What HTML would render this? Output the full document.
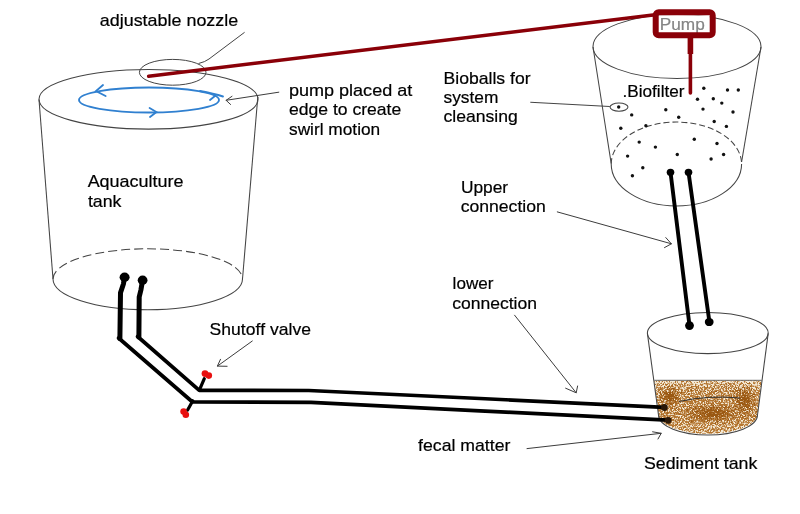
<!DOCTYPE html>
<html>
<head>
<meta charset="utf-8">
<style>
html,body{margin:0;padding:0;background:#fff;}
body{width:800px;height:514px;overflow:hidden;}
svg{display:block;filter:blur(0.3px);}
text{font-family:"Liberation Sans",sans-serif;fill:#000;stroke:#000;stroke-width:0.2px;font-kerning:none;}
</style>
</head>
<body>
<svg width="800" height="514" viewBox="0 0 800 514">
<defs>
  <filter id="speck" x="0" y="0" width="100%" height="100%" color-interpolation-filters="sRGB">
    <feTurbulence type="fractalNoise" baseFrequency="0.65" numOctaves="2" seed="7" result="n"/>
    <feColorMatrix in="n" type="matrix" values="0 0 0 0 0  0 0 0 0 0  0 0 0 0 0  1 0 0 0 0" result="na"/>
    <feComposite in="na" in2="SourceGraphic" operator="arithmetic" k1="0" k2="6" k3="1.0" k4="-3.2" result="m"/>
    <feFlood flood-color="#b57630"/>
    <feComposite in2="m" operator="in"/>
  </filter>
  <filter id="speckd" x="0" y="0" width="100%" height="100%" color-interpolation-filters="sRGB">
    <feTurbulence type="fractalNoise" baseFrequency="0.7" numOctaves="2" seed="21" result="n"/>
    <feColorMatrix in="n" type="matrix" values="0 0 0 0 0  0 0 0 0 0  0 0 0 0 0  1 0 0 0 0" result="na"/>
    <feComposite in="na" in2="SourceGraphic" operator="arithmetic" k1="0" k2="5" k3="1.8" k4="-2.85" result="m"/>
    <feFlood flood-color="#9a5812"/>
    <feComposite in2="m" operator="in"/>
  </filter>
  <linearGradient id="dens" x1="0" y1="0" x2="0" y2="1">
    <stop offset="0" stop-color="#000" stop-opacity="0.35"/>
    <stop offset="0.2" stop-color="#000" stop-opacity="0.9"/>
    <stop offset="0.7" stop-color="#000" stop-opacity="1"/>
    <stop offset="1" stop-color="#000" stop-opacity="0.75"/>
  </linearGradient>
  <radialGradient id="blob">
    <stop offset="0" stop-color="#000" stop-opacity="1"/>
    <stop offset="1" stop-color="#000" stop-opacity="0"/>
  </radialGradient>
  <clipPath id="sedclip">
    <path d="M654.2,380.5 L761.6,380.5 L757.5,414 A49.5,19.8 0 0 1 658.5,414 Z"/>
  </clipPath>
</defs>
<rect width="800" height="514" fill="#fff"/>

<!-- ===== Aquaculture tank ===== -->
<g fill="none" stroke="#444" stroke-width="1.05">
  <ellipse cx="148.5" cy="99.3" rx="109.5" ry="29.8"/>
  <line x1="39" y1="99.5" x2="53" y2="279"/>
  <line x1="257.8" y1="97" x2="242.5" y2="279"/>
  <path d="M53,279 A94.75,30.8 0 0 0 242.5,279"/>
  <path d="M53,279 A94.75,30.2 0 0 1 242.5,279" stroke-dasharray="9 4"/>
</g>

<!-- blue swirl -->
<g fill="none" stroke="#3080d0" stroke-width="1.85" stroke-linecap="round">
  <ellipse cx="149" cy="100" rx="70" ry="12.5"/>
  <path d="M200,91 Q214,93.5 223,96.5"/>
  <path d="M103,85 L96,91 L105.6,96"/>
  <path d="M149.6,108 L156.4,112 L150,117"/>
  <path d="M210,100 L215.6,95.6"/>
</g>

<!-- nozzle ellipse + leader -->
<g fill="none" stroke="#444" stroke-width="1">
  <ellipse cx="172.7" cy="72.3" rx="33.3" ry="12.9"/>
  <path d="M244.6,32.3 L209,59 Q205,62 198.5,63.5"/>
</g>

<!-- ===== Biofilter ===== -->
<g fill="none" stroke="#444" stroke-width="1.05">
  <ellipse cx="677" cy="46.5" rx="84" ry="32"/>
  <line x1="593" y1="47" x2="611.2" y2="163.5"/>
  <line x1="761" y1="47" x2="741.6" y2="162"/>
  <path d="M611.2,164 A65.2,42 0 0 0 741.6,164"/>
  <path d="M611.2,164 A65.2,42 0 0 1 741.6,164" stroke-dasharray="6 3"/>
  <ellipse cx="619" cy="107.1" rx="9" ry="4.1"/>
  <path d="M530.3,102.3 L609.8,106.5"/>
</g>
<g fill="#111">
  <circle cx="618.7" cy="107" r="1.7"/>
  <circle cx="703.8" cy="88.3" r="1.7"/>
  <circle cx="727.5" cy="90" r="1.7"/>
  <circle cx="738.3" cy="90" r="1.7"/>
  <circle cx="697.5" cy="99.3" r="1.7"/>
  <circle cx="713.3" cy="98.8" r="1.7"/>
  <circle cx="721.8" cy="103.1" r="1.7"/>
  <circle cx="703" cy="109.1" r="1.7"/>
  <circle cx="733" cy="112" r="1.7"/>
  <circle cx="665.8" cy="109.7" r="1.7"/>
  <circle cx="631.7" cy="114.9" r="1.7"/>
  <circle cx="678.7" cy="117.3" r="1.7"/>
  <circle cx="714.2" cy="121.5" r="1.7"/>
  <circle cx="726.4" cy="126.4" r="1.7"/>
  <circle cx="620.8" cy="128.3" r="1.7"/>
  <circle cx="645.9" cy="125.7" r="1.7"/>
  <circle cx="694.3" cy="139.2" r="1.7"/>
  <circle cx="639.2" cy="142.1" r="1.7"/>
  <circle cx="717" cy="143.5" r="1.7"/>
  <circle cx="655.4" cy="147.1" r="1.7"/>
  <circle cx="627.6" cy="156.1" r="1.7"/>
  <circle cx="677.3" cy="154.5" r="1.7"/>
  <circle cx="723.6" cy="154.5" r="1.7"/>
  <circle cx="711.1" cy="159" r="1.7"/>
  <circle cx="642.8" cy="167.7" r="1.7"/>
  <circle cx="632.4" cy="175.7" r="1.7"/>
</g>

<!-- ===== Sediment tank ===== -->
<g clip-path="url(#sedclip)">
  <rect x="640" y="370" width="130" height="70" fill="#f4ead6"/>
  <g filter="url(#speck)"><rect x="640" y="380" width="130" height="56" fill="url(#dens)"/></g>
  <g filter="url(#speckd)">
    <ellipse cx="670" cy="396" rx="13" ry="12" fill="url(#blob)"/>
    <ellipse cx="744" cy="401" rx="13" ry="18" fill="url(#blob)"/>
    <ellipse cx="712" cy="413" rx="32" ry="11" fill="url(#blob)"/>
    
  </g>
</g>
<g fill="none" stroke="#444" stroke-width="1.05">
  <ellipse cx="707.8" cy="333" rx="60.4" ry="20.6"/>
  <line x1="647.4" y1="333.4" x2="658.5" y2="415"/>
  <line x1="768.2" y1="333.4" x2="757.5" y2="415"/>
  <path d="M658.5,415 A49.5,20 0 0 0 757.5,415"/>
  <path d="M654.2,380.3 L761.6,380.3" stroke="#555" stroke-width="0.9"/>
  <path d="M679,401.5 Q708,395 740,398" stroke="#333" stroke-width="1"/>
</g>

<!-- ===== Pipes ===== -->
<g fill="none" stroke="#000" stroke-linejoin="round" stroke-linecap="round">
  <path d="M124.6,277 L123.4,284 L120.5,292.8 L119.9,338.5" stroke-width="5"/>
  <path d="M142.6,280 L140.9,290 L139.2,297 L138.9,337" stroke-width="5"/>
  <path d="M118.6,338 L192.5,402 L311,402.3 L480,410.8 L668,420.2" stroke-width="3.7"/>
  <path d="M137.6,336.5 L199.3,390.3 L308.8,390.5 L480,398.5 L664.5,407.3" stroke-width="3.7"/>
  <path d="M670.5,172.3 L689.5,325.4" stroke-width="3.9"/>
  <path d="M688.5,172.3 L709.4,321.8" stroke-width="3.9"/>
  <path d="M199.6,389.7 L204.3,378.6" stroke-width="3.2"/>
  <path d="M192.8,400.8 L187.6,410" stroke-width="3.2"/>
</g>
<g fill="#000">
  <ellipse cx="124.6" cy="277.2" rx="5" ry="4.7"/>
  <ellipse cx="142.6" cy="280.2" rx="4.9" ry="4.6"/>
  <ellipse cx="670.5" cy="172.3" rx="3.8" ry="3.6"/>
  <ellipse cx="688.5" cy="172.3" rx="3.8" ry="3.6"/>
  <ellipse cx="689.5" cy="325.6" rx="4.4" ry="4.4"/>
  <ellipse cx="709.2" cy="322" rx="4.4" ry="4.1"/>
  <circle cx="664.4" cy="407.5" r="3.4" fill="#2a1808"/>
  <circle cx="668.2" cy="420.3" r="3.4" fill="#2a1808"/>
</g>
<g fill="#e81010">
  <circle cx="205" cy="373.6" r="3.4"/>
  <circle cx="208.8" cy="375.6" r="3.3"/>
  <circle cx="183.6" cy="411.6" r="3.3"/>
  <circle cx="185.8" cy="414.8" r="3.3"/>
</g>

<!-- ===== Red pump line ===== -->
<rect x="658.7" y="15.3" width="51" height="17" fill="#fff"/>
<text x="659.8" y="30.2" textLength="45" lengthAdjust="spacingAndGlyphs" font-size="17" style="fill:#858585;stroke:#858585">Pump</text>
<g fill="none" stroke="#8a0008" stroke-linecap="round">
  <path d="M148.7,76.2 L653,15" stroke-width="3.6"/>
  <rect x="655.7" y="12.3" width="57" height="23" rx="3" stroke-width="6"/>
  <path d="M690.4,38 L690.4,54" stroke-width="5.6" stroke-linecap="butt"/>
  <path d="M690.4,50 L690.4,93" stroke-width="3.6"/>
</g>

<!-- ===== Arrows / leaders ===== -->
<g fill="none" stroke="#3c3c3c" stroke-width="1" stroke-linecap="round">
  <path d="M278.8,92.2 L226.1,100.3 M232,96.3 L226.1,100.3 L230.6,104.5"/>
  <path d="M557.3,211.9 L671.4,243.8 M665.8,237.6 L671.4,243.8 L664.5,247.6"/>
  <path d="M514.6,315.2 L576.2,392.8 M565.6,388.2 L576.2,392.8 L577.6,386"/>
  <path d="M252.3,341 L217.4,366.1 M220.5,359.3 L217.4,366.1 L227.1,366.3"/>
  <path d="M527,448.6 L661.2,433.3 M652.6,431.8 L661.2,433.3 L658,439"/>
</g>

<!-- ===== Text ===== -->
<g font-size="16.6">
  <text x="99.80" y="26" textLength="138.40" lengthAdjust="spacingAndGlyphs">adjustable nozzle</text>
  <text x="289.00" y="96" textLength="123.20" lengthAdjust="spacingAndGlyphs">pump placed at</text>
  <text x="289.00" y="115.2" textLength="112.20" lengthAdjust="spacingAndGlyphs">edge to create</text>
  <text x="289.00" y="135" textLength="91.20" lengthAdjust="spacingAndGlyphs">swirl motion</text>
  <text x="87.65" y="186.7" textLength="95.80" lengthAdjust="spacingAndGlyphs">Aquaculture</text>
  <text x="87.90" y="206.6" textLength="33.55" lengthAdjust="spacingAndGlyphs">tank</text>
  <text x="443.5" y="83.65" textLength="87.05" lengthAdjust="spacingAndGlyphs">Bioballs for</text>
  <text x="443.5" y="103.15" textLength="54.80" lengthAdjust="spacingAndGlyphs">system</text>
  <text x="443.5" y="122.4" textLength="74.30" lengthAdjust="spacingAndGlyphs">cleansing</text>
  <text x="622.5" y="96.5" textLength="62.00" lengthAdjust="spacingAndGlyphs">.Biofilter</text>
  <text x="460.9" y="192.8" textLength="47.20" lengthAdjust="spacingAndGlyphs">Upper</text>
  <text x="460.70" y="212.1" textLength="85.10" lengthAdjust="spacingAndGlyphs">connection</text>
  <text x="452.60" y="289.1" textLength="40.80" lengthAdjust="spacingAndGlyphs">lower</text>
  <text x="452.15" y="308.7" textLength="84.80" lengthAdjust="spacingAndGlyphs">connection</text>
  <text x="209.60" y="334.8" textLength="101.30" lengthAdjust="spacingAndGlyphs">Shutoff valve</text>
  <text x="418.10" y="451.4" textLength="92.30" lengthAdjust="spacingAndGlyphs">fecal matter</text>
  <text x="644.00" y="469" textLength="113.30" lengthAdjust="spacingAndGlyphs">Sediment tank</text>
</g>
</svg>
</body>
</html>
